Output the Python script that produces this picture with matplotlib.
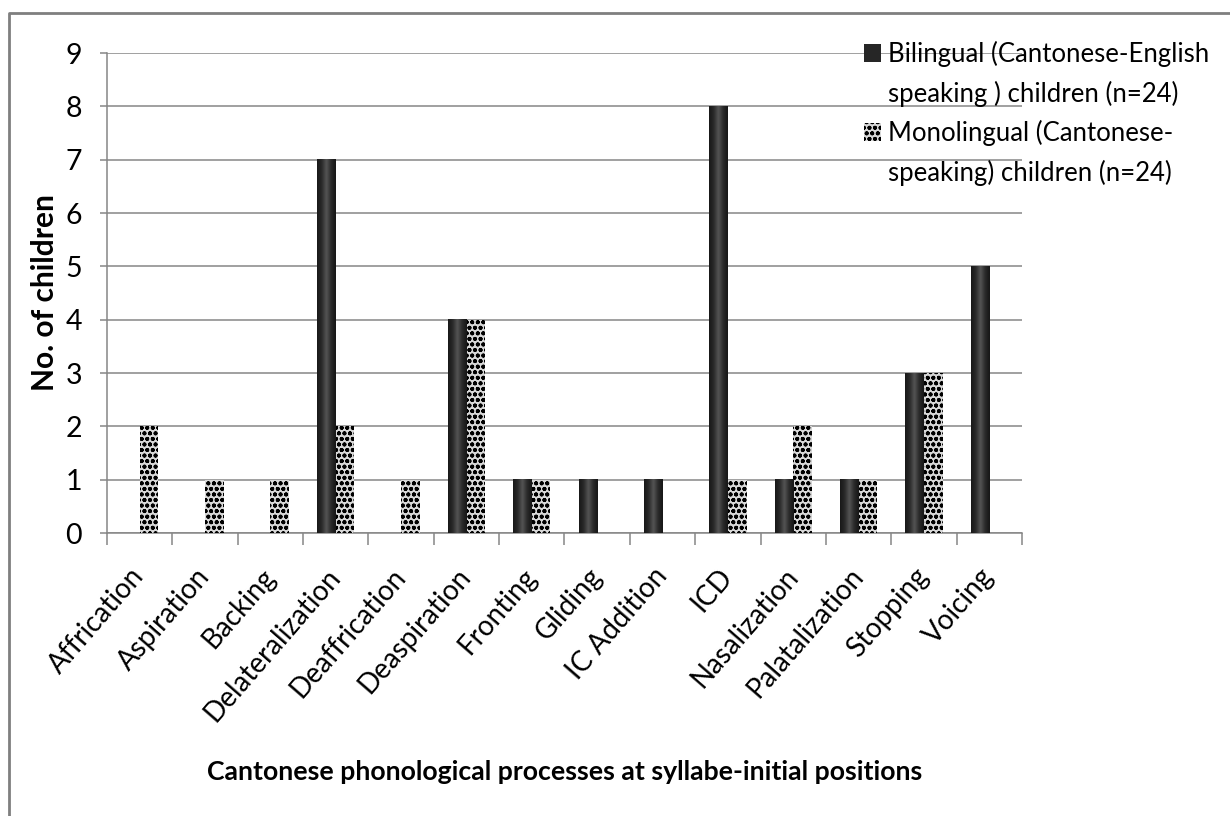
import numpy as np
import matplotlib
matplotlib.use('Agg')
from matplotlib import pyplot as plt
from matplotlib.patches import Patch
from matplotlib.lines import Line2D
from matplotlib.colors import LinearSegmentedColormap

processes = ['Affrication', 'Aspiration', 'Backing', 'Delateralization',
             'Deaffrication', 'Deaspiration', 'Fronting', 'Gliding',
             'IC Addition', 'ICD', 'Nasalization', 'Palatalization',
             'Stopping', 'Voicing']
bilingual = [0, 0, 0, 7, 0, 4, 1, 1, 1, 8, 1, 1, 3, 5]
monolingual = [2, 1, 1, 2, 1, 4, 1, 0, 0, 1, 2, 1, 3, 0]
y_ticks = [0, 1, 2, 3, 4, 5, 6, 7, 8, 9]
legend_labels = ['Bilingual (Cantonese-English', 'speaking ) children (n=24)',
                 'Monolingual (Cantonese-', 'speaking) children (n=24)']
x_title = 'Cantonese phonological processes at syllabe-initial positions'
y_title = 'No. of children'

plt.rcParams['font.family'] = ['Lato', 'DejaVu Sans']
plt.rcParams['hatch.linewidth'] = 1.25

W, H = 1230, 816
GREY = '#868686'
DARK = '#262626'
LIGHT = '#d8d8d8'

fig = plt.figure(figsize=(W / 100, H / 100), dpi=100)
ax = fig.add_axes([107 / W, 1 - 533 / H, (1022 - 107) / W, 480 / H])

x = np.arange(len(processes))
w = 1 / 3.5  # excel-ish gap width of 150%

bars_bi = ax.bar(x - w / 2, bilingual, w, color=DARK, linewidth=0, zorder=3)
bars_mono = ax.bar(x + w / 2, monolingual, w, facecolor=LIGHT, edgecolor='black',
                   hatch='ooo', linewidth=0, zorder=3)

# cylinder-like shading on the dark bars
shade = LinearSegmentedColormap.from_list(
    'cyl', ['#181818', '#2a2a2a', '#555555', '#2a2a2a', '#161616'])
grad = np.linspace(0, 1, 64).reshape(1, -1)
for b in bars_bi:
    if b.get_height() > 0:
        ax.imshow(grad, cmap=shade, aspect='auto', interpolation='bicubic',
                  extent=[b.get_x(), b.get_x() + b.get_width(), 0, b.get_height()],
                  zorder=3.5)

ax.set_xlim(-0.5, len(processes) - 0.5)
ax.set_ylim(0, 9)
ax.set_yticks(y_ticks)
ax.grid(axis='y', color=GREY, lw=1.1)
ax.set_axisbelow(True)
for s in ['top', 'right']:
    ax.spines[s].set_visible(False)
for s in ['left', 'bottom']:
    ax.spines[s].set_color(GREY)
    ax.spines[s].set_linewidth(1.1)

ax.set_xticks(x)
ax.set_xticklabels(processes, rotation=49, ha='right', va='center',
                   rotation_mode='anchor', fontsize=20)
ax.set_xticks(np.arange(len(processes) + 1) - 0.5, minor=True)
ax.tick_params(axis='x', which='major', length=0, pad=28)
ax.tick_params(axis='x', which='minor', length=8.5, width=1.1, color=GREY)
ax.tick_params(axis='y', length=5, width=1.1, color=GREY, pad=13, labelsize=20.5)

fig.text(45 / W, 1 - 293 / H, y_title, rotation=90, ha='center', va='center',
         fontsize=21.5, fontweight='bold')
fig.text(565 / W, 1 - 780 / H, x_title, ha='center', va='baseline',
         fontsize=19.2, fontweight='bold')

# legend rows: handle on the first line of each entry only
blank = Patch(facecolor='none', edgecolor='none')
handles = [Patch(facecolor=DARK), blank,
           Patch(facecolor=LIGHT, edgecolor='black', lw=0, hatch='ooo'), blank]
ax.legend(handles, legend_labels, loc='upper left',
          bbox_to_anchor=(864 / W, 1 - 41 / H), bbox_transform=fig.transFigure,
          frameon=False, fontsize=18.5, handlelength=0.68, handleheight=0.68,
          handletextpad=0.25, labelspacing=0.52, borderpad=0, borderaxespad=0)

# outer chart frame (left and top edges)
fig.add_artist(Line2D([8.5 / W, 8.5 / W, 1], [0, 1 - 12.5 / H, 1 - 12.5 / H],
                      color='#7f7f7f', lw=2, transform=fig.transFigure))

fig.savefig('out.png', dpi=100)
